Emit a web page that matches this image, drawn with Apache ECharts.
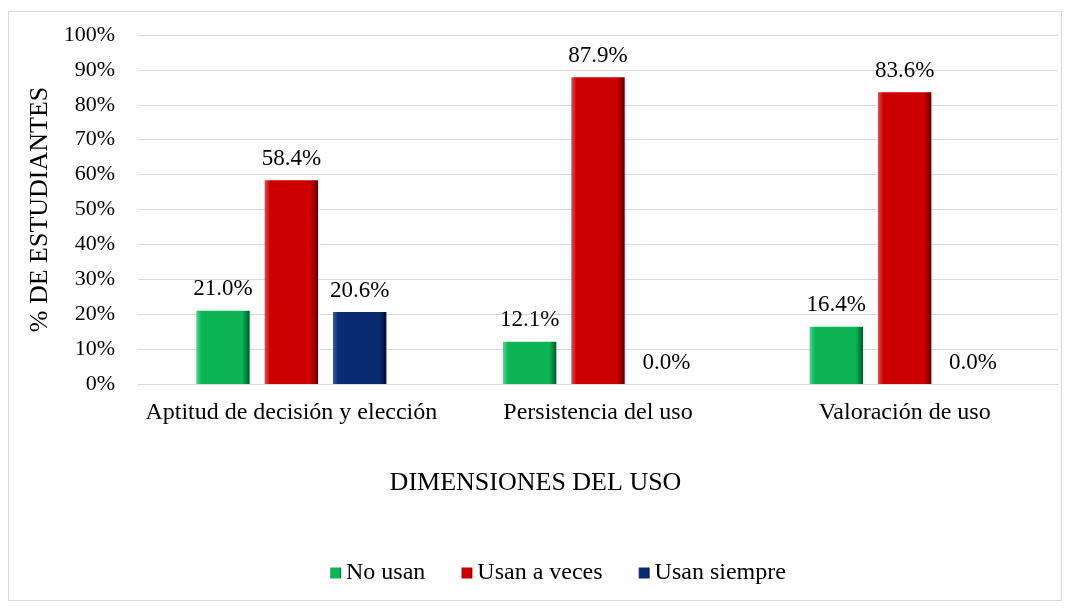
<!DOCTYPE html>
<html>
<head>
<meta charset="utf-8">
<script src="https://cdn.jsdelivr.net/npm/echarts@6/dist/echarts.min.js"></script>
<style>
html, body { margin: 0; padding: 0; background: #fff; }
#main { width: 1071px; height: 612px; }
</style>
</head>
<body>
<div id="main"></div>
<script>
var categories = ['Aptitud de decisión y elección', 'Persistencia del uso', 'Valoración de uso'];
var noUsan = [21.0, 12.1, 16.4];
var usanAVeces = [58.4, 87.9, 83.6];
var usanSiempre = [20.6, 0.0, 0.0];
var seriesNames = ['No usan', 'Usan a veces', 'Usan siempre'];

var font = 'Liberation Serif, Times New Roman, serif';

// gradiente horizontal para imitar el bisel de Excel
function bevel(light, base, dark) {
	return new echarts.graphic.LinearGradient(0, 0, 1, 0, [
		{ offset: 0, color: light },
		{ offset: 0.1, color: base },
		{ offset: 0.86, color: base },
		{ offset: 1, color: dark }
	]);
}

function makeSeries(name, data, fill) {
	return {
		name : name,
		type : 'bar',
		data : data,
		barGap : '28%',
		barCategoryGap : '38%',
		itemStyle : {
			color : fill
		},
		label : {
			show : true,
			position : 'top',
			distance : 10,
			fontFamily : font,
			fontSize : 23,
			color : '#000',
			formatter : function(p) {
				return p.value.toFixed(1) + '%';
			}
		}
	};
}

var myChart = echarts.init(document.getElementById('main'));
var option = {
	backgroundColor : '#fff',
	animation : false,
	graphic : [ {
		type : 'rect',
		shape : { x : 8.5, y : 11.5, width : 1053, height : 589 },
		style : { fill : 'none', stroke : '#d9d9d9', lineWidth : 1 },
		silent : true
	}, {
		type : 'text',
		left : 'center',
		top : 470,
		style : {
			text : 'DIMENSIONES DEL USO',
			font : '26px ' + font,
			fill : '#000'
		}
	} ],
	grid : {
		left : 138,
		right : 13,
		top : 35,
		bottom : 228
	},
	legend : {
		bottom : 22,
		left : 325,
		itemWidth : 11,
		itemHeight : 11,
		itemGap : 36,
		icon : 'rect',
		textStyle : {
			fontFamily : font,
			fontSize : 24,
			color : '#000'
		},
		data : seriesNames
	},
	xAxis : {
		type : 'category',
		data : categories,
		axisLine : { lineStyle : { color : '#d9d9d9' } },
		axisTick : { show : false },
		axisLabel : {
			interval : 0,
			margin : 17,
			fontFamily : font,
			fontSize : 24,
			color : '#000'
		}
	},
	yAxis : {
		type : 'value',
		min : 0,
		max : 100,
		interval : 10,
		name : '% DE ESTUDIANTES',
		nameLocation : 'middle',
		nameGap : 82,
		nameTextStyle : {
			fontFamily : font,
			fontSize : 26,
			color : '#000'
		},
		axisLine : { show : false },
		axisTick : { show : false },
		splitLine : { lineStyle : { color : '#d9d9d9', width : 1 } },
		axisLabel : {
			margin : 23,
			fontFamily : font,
			fontSize : 22,
			color : '#000',
			formatter : '{value}%'
		}
	},
	series : [
		makeSeries(seriesNames[0], noUsan, bevel('#3ee08a', '#0db454', '#03592a')),
		makeSeries(seriesNames[1], usanAVeces, bevel('#f04a4a', '#cc0000', '#550000')),
		makeSeries(seriesNames[2], usanSiempre, bevel('#2d5cbc', '#0a2a72', '#020c2b'))
	]
};
myChart.setOption(option);
</script>
</body>
</html>
